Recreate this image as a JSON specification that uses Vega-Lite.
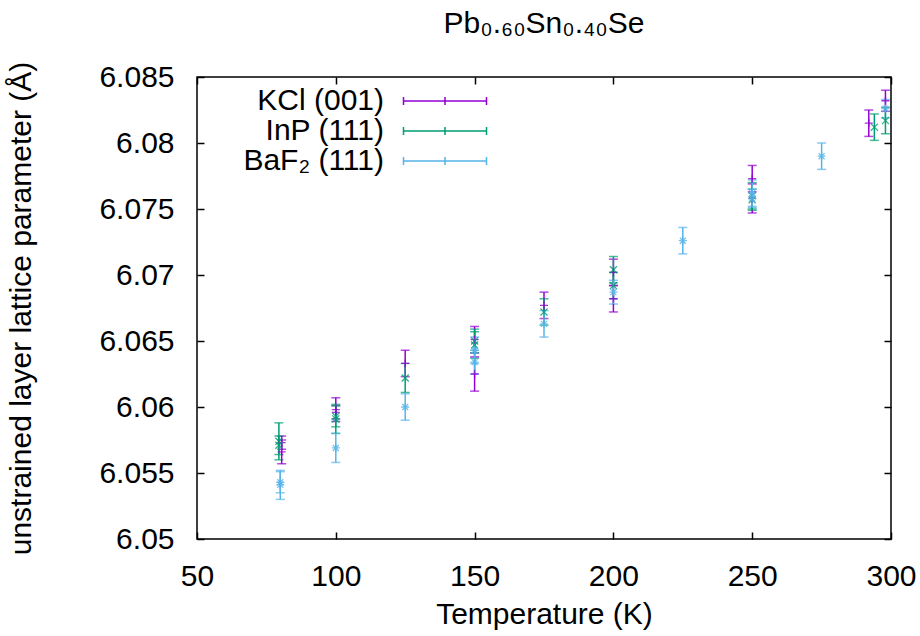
{
  "$schema": "https://vega.github.io/schema/vega-lite/v6.json",
  "width": 694,
  "height": 462,
  "autosize": {"type": "none"},
  "padding": {"left": 197, "top": 77, "right": 29, "bottom": 97},
  "background": "white",
  "title": {"text": "Pb₀.₆₀Sn₀.₄₀Se", "fontSize": 30, "font": "Liberation Sans", "fontWeight": "normal", "color": "black", "offset": 22, "anchor": "middle"},
  "config": {
    "view": {"stroke": "black", "strokeWidth": 1.5},
    "font": "Liberation Sans",
    "axis": {"labelFont": "Liberation Sans", "titleFont": "Liberation Sans", "labelFontSize": 30, "titleFontSize": 30, "titleFontWeight": "normal", "labelColor": "black", "titleColor": "black", "domain": false, "grid": false, "tickColor": "black", "tickWidth": 1.5, "tickSize": -7, "labelFlush": false},
    "legend": {"orient": "none", "legendX": 233, "legendY": 9, "labelFontSize": 30, "labelFont": "Liberation Sans", "labelColor": "black", "labelAlign": "right", "labelOffset": -76, "symbolSize": 100, "symbolStrokeWidth": 1.5, "symbolOpacity": 1, "padding": 0, "rowPadding": -1, "labelLimit": 0}
  },
  "data": {"values": [
    {"T": 80.5, "s": "KCl (001)", "v": 6.0573, "e": 0.0005},
    {"T": 80.5, "s": "KCl (001)", "v": 6.0566, "e": 0.0009},
    {"T": 79.5, "s": "InP (111)", "v": 6.0574, "e": 0.0014},
    {"T": 79.5, "s": "InP (111)", "v": 6.0571, "e": 0.0007},
    {"T": 80, "s": "BaF₂ (111)", "v": 6.0541, "e": 0.0011},
    {"T": 80, "s": "BaF₂ (111)", "v": 6.0543, "e": 0.0008},
    {"T": 100, "s": "KCl (001)", "v": 6.0598, "e": 0.0009},
    {"T": 100, "s": "KCl (001)", "v": 6.0596, "e": 0.0005},
    {"T": 100, "s": "InP (111)", "v": 6.0591, "e": 0.0011},
    {"T": 100, "s": "InP (111)", "v": 6.0593, "e": 0.0008},
    {"T": 100, "s": "BaF₂ (111)", "v": 6.0569, "e": 0.0011},
    {"T": 125, "s": "KCl (001)", "v": 6.0633, "e": 0.0010},
    {"T": 125, "s": "InP (111)", "v": 6.0622, "e": 0.0011},
    {"T": 125, "s": "BaF₂ (111)", "v": 6.0600, "e": 0.0010},
    {"T": 150, "s": "KCl (001)", "v": 6.0651, "e": 0.0010},
    {"T": 150, "s": "KCl (001)", "v": 6.0625, "e": 0.0013},
    {"T": 150, "s": "InP (111)", "v": 6.0647, "e": 0.0010},
    {"T": 150, "s": "InP (111)", "v": 6.0650, "e": 0.0009},
    {"T": 150, "s": "BaF₂ (111)", "v": 6.0634, "e": 0.0009},
    {"T": 150, "s": "BaF₂ (111)", "v": 6.0643, "e": 0.0010},
    {"T": 175, "s": "KCl (001)", "v": 6.0677, "e": 0.0010},
    {"T": 175, "s": "InP (111)", "v": 6.0672, "e": 0.0010},
    {"T": 175, "s": "BaF₂ (111)", "v": 6.0663, "e": 0.0010},
    {"T": 200, "s": "KCl (001)", "v": 6.0702, "e": 0.0010},
    {"T": 200, "s": "KCl (001)", "v": 6.0682, "e": 0.0010},
    {"T": 200, "s": "InP (111)", "v": 6.0704, "e": 0.0010},
    {"T": 200, "s": "InP (111)", "v": 6.0692, "e": 0.0010},
    {"T": 200, "s": "BaF₂ (111)", "v": 6.0687, "e": 0.0009},
    {"T": 225, "s": "BaF₂ (111)", "v": 6.0726, "e": 0.0010},
    {"T": 250, "s": "KCl (001)", "v": 6.0773, "e": 0.0010},
    {"T": 250, "s": "KCl (001)", "v": 6.0758, "e": 0.0011},
    {"T": 250, "s": "InP (111)", "v": 6.0760, "e": 0.0010},
    {"T": 250, "s": "InP (111)", "v": 6.0757, "e": 0.0008},
    {"T": 250, "s": "BaF₂ (111)", "v": 6.0762, "e": 0.0010},
    {"T": 250, "s": "BaF₂ (111)", "v": 6.0758, "e": 0.0007},
    {"T": 275, "s": "BaF₂ (111)", "v": 6.0790, "e": 0.0010},
    {"T": 292, "s": "KCl (001)", "v": 6.0815, "e": 0.0010},
    {"T": 294, "s": "InP (111)", "v": 6.0812, "e": 0.0010},
    {"T": 298, "s": "KCl (001)", "v": 6.0832, "e": 0.0008},
    {"T": 298, "s": "BaF₂ (111)", "v": 6.0826, "e": 0.0007},
    {"T": 298, "s": "InP (111)", "v": 6.0817, "e": 0.0010}
  ]},
  "resolve": {"axis": {"x": "independent", "y": "independent"}},
  "layer": [
    {
      "mark": {"type": "errorbar", "ticks": {"size": 9, "thickness": 1.5}, "rule": {"strokeWidth": 1.5}},
      "encoding": {
        "x": {"field": "T", "type": "quantitative", "scale": {"domain": [50, 300], "nice": false, "zero": false}, "axis": {"values": [50, 100, 150, 200, 250, 300], "title": "Temperature (K)", "labelPadding": 29, "titlePadding": 8}},
        "y": {"field": "v", "type": "quantitative", "scale": {"domain": [6.05, 6.085], "nice": false, "zero": false}, "axis": {"values": [6.05, 6.055, 6.06, 6.065, 6.07, 6.075, 6.08, 6.085], "format": "~g", "title": "unstrained layer lattice parameter (Å)", "labelPadding": 30, "titlePadding": 62}},
        "yError": {"field": "e"},
        "color": {"field": "s", "type": "nominal", "scale": {"domain": ["KCl (001)", "InP (111)", "BaF₂ (111)"], "range": ["#9400d3", "#009e73", "#56b4e9"]}, "legend": {"title": null, "symbolType": "M-8.3,0L8.3,0M-8.3,-0.8L-8.3,0.8M8.3,-0.8L8.3,0.8M0,-0.8L0,0.8"}}
      }
    },
    {
      "transform": [{"filter": "datum.s === 'KCl (001)'"}],
      "mark": {"type": "point", "filled": false, "strokeWidth": 1.3, "size": 64, "color": "#9400d3", "opacity": 0.8, "shape": "M-1,0L1,0M0,-1L0,1"},
      "encoding": {
        "x": {"field": "T", "type": "quantitative", "axis": {"orient": "top", "values": [50, 100, 150, 200, 250, 300], "labels": false, "title": null}},
        "y": {"field": "v", "type": "quantitative", "axis": {"orient": "right", "values": [6.05, 6.055, 6.06, 6.065, 6.07, 6.075, 6.08, 6.085], "labels": false, "title": null}}
      }
    },
    {
      "transform": [{"filter": "datum.s === 'InP (111)'"}],
      "mark": {"type": "point", "filled": false, "strokeWidth": 1.3, "size": 50, "color": "#009e73", "opacity": 0.8, "shape": "M-1,-1L1,1M-1,1L1,-1"},
      "encoding": {
        "x": {"field": "T", "type": "quantitative", "axis": null},
        "y": {"field": "v", "type": "quantitative", "axis": null}
      }
    },
    {
      "transform": [{"filter": "datum.s === 'BaF₂ (111)'"}],
      "mark": {"type": "point", "filled": false, "strokeWidth": 1.3, "size": 64, "color": "#56b4e9", "opacity": 0.8, "shape": "M-1,0L1,0M0,-1L0,1M-0.75,-0.75L0.75,0.75M-0.75,0.75L0.75,-0.75"},
      "encoding": {
        "x": {"field": "T", "type": "quantitative", "axis": null},
        "y": {"field": "v", "type": "quantitative", "axis": null}
      }
    }
  ]
}
